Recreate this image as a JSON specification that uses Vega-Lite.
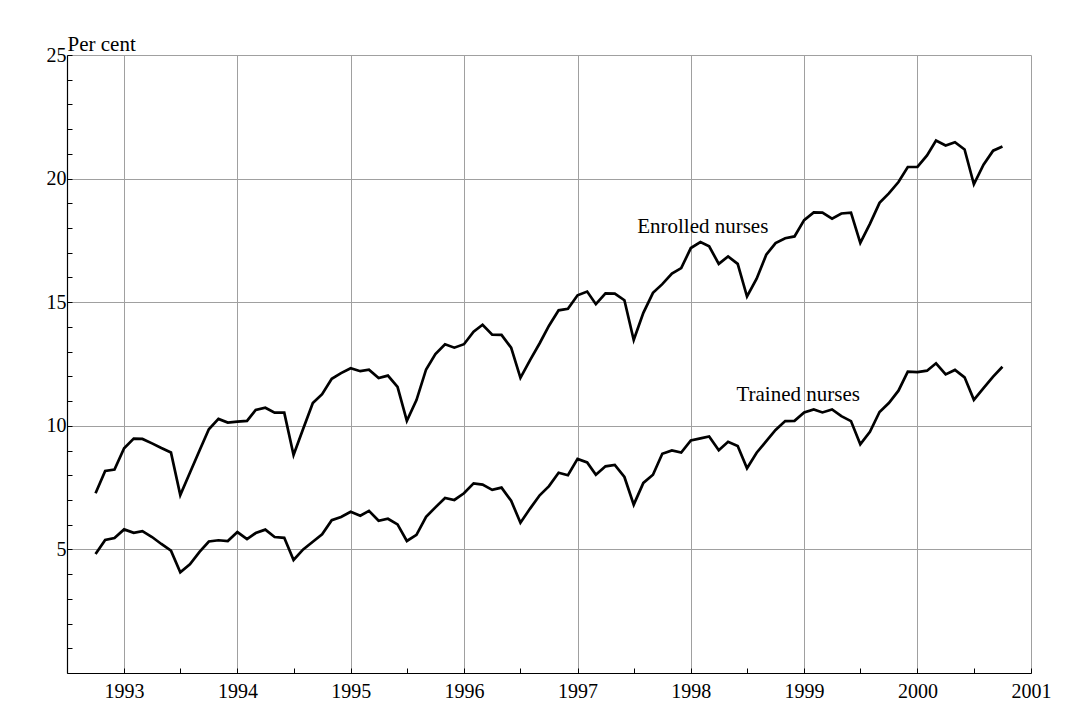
{
  "$schema": "https://vega.github.io/schema/vega-lite/v6.json",
  "width": 964,
  "height": 618,
  "autosize": "none",
  "padding": {"left": 67, "top": 55, "right": 36, "bottom": 42},
  "background": "white",
  "config": {
    "view": {"stroke": null},
    "font": "Liberation Serif",
    "axis": {
      "labelFont": "Liberation Serif",
      "labelFontSize": 20,
      "labelColor": "black",
      "labelOverlap": false,
      "titleFont": "Liberation Serif",
      "titleFontWeight": "normal",
      "titleColor": "black",
      "domainColor": "black",
      "domainWidth": 1.2,
      "tickColor": "black",
      "tickWidth": 1,
      "gridColor": "#a0a0a0",
      "gridWidth": 1
    }
  },
  "datasets": {
    "nurses": [
      {"month": "1992-10-01", "enrolled": 7.27, "trained": 4.81},
      {"month": "1992-11-01", "enrolled": 8.17, "trained": 5.38},
      {"month": "1992-12-01", "enrolled": 8.23, "trained": 5.46},
      {"month": "1993-01-01", "enrolled": 9.09, "trained": 5.81},
      {"month": "1993-02-01", "enrolled": 9.48, "trained": 5.67},
      {"month": "1993-03-01", "enrolled": 9.47, "trained": 5.74},
      {"month": "1993-04-01", "enrolled": 9.29, "trained": 5.50},
      {"month": "1993-05-01", "enrolled": 9.10, "trained": 5.22},
      {"month": "1993-06-01", "enrolled": 8.92, "trained": 4.95},
      {"month": "1993-07-01", "enrolled": 7.20, "trained": 4.07},
      {"month": "1993-08-01", "enrolled": 8.10, "trained": 4.40},
      {"month": "1993-09-01", "enrolled": 9.00, "trained": 4.90},
      {"month": "1993-10-01", "enrolled": 9.86, "trained": 5.32},
      {"month": "1993-11-01", "enrolled": 10.28, "trained": 5.37},
      {"month": "1993-12-01", "enrolled": 10.13, "trained": 5.34},
      {"month": "1994-01-01", "enrolled": 10.17, "trained": 5.70},
      {"month": "1994-02-01", "enrolled": 10.20, "trained": 5.42},
      {"month": "1994-03-01", "enrolled": 10.64, "trained": 5.66},
      {"month": "1994-04-01", "enrolled": 10.73, "trained": 5.80},
      {"month": "1994-05-01", "enrolled": 10.53, "trained": 5.50},
      {"month": "1994-06-01", "enrolled": 10.53, "trained": 5.47},
      {"month": "1994-07-01", "enrolled": 8.82, "trained": 4.57},
      {"month": "1994-08-01", "enrolled": 9.88, "trained": 5.00},
      {"month": "1994-09-01", "enrolled": 10.92, "trained": 5.31},
      {"month": "1994-10-01", "enrolled": 11.28, "trained": 5.61},
      {"month": "1994-11-01", "enrolled": 11.90, "trained": 6.18},
      {"month": "1994-12-01", "enrolled": 12.13, "trained": 6.31},
      {"month": "1995-01-01", "enrolled": 12.33, "trained": 6.52},
      {"month": "1995-02-01", "enrolled": 12.21, "trained": 6.36},
      {"month": "1995-03-01", "enrolled": 12.27, "trained": 6.56},
      {"month": "1995-04-01", "enrolled": 11.93, "trained": 6.16},
      {"month": "1995-05-01", "enrolled": 12.03, "trained": 6.24},
      {"month": "1995-06-01", "enrolled": 11.57, "trained": 6.01},
      {"month": "1995-07-01", "enrolled": 10.20, "trained": 5.34},
      {"month": "1995-08-01", "enrolled": 11.04, "trained": 5.59},
      {"month": "1995-09-01", "enrolled": 12.28, "trained": 6.32},
      {"month": "1995-10-01", "enrolled": 12.90, "trained": 6.70},
      {"month": "1995-11-01", "enrolled": 13.30, "trained": 7.08},
      {"month": "1995-12-01", "enrolled": 13.16, "trained": 7.00},
      {"month": "1996-01-01", "enrolled": 13.30, "trained": 7.27},
      {"month": "1996-02-01", "enrolled": 13.81, "trained": 7.67},
      {"month": "1996-03-01", "enrolled": 14.09, "trained": 7.62},
      {"month": "1996-04-01", "enrolled": 13.69, "trained": 7.41},
      {"month": "1996-05-01", "enrolled": 13.68, "trained": 7.50},
      {"month": "1996-06-01", "enrolled": 13.16, "trained": 6.97},
      {"month": "1996-07-01", "enrolled": 11.94, "trained": 6.08},
      {"month": "1996-08-01", "enrolled": 12.66, "trained": 6.65},
      {"month": "1996-09-01", "enrolled": 13.34, "trained": 7.19},
      {"month": "1996-10-01", "enrolled": 14.05, "trained": 7.56},
      {"month": "1996-11-01", "enrolled": 14.67, "trained": 8.10},
      {"month": "1996-12-01", "enrolled": 14.73, "trained": 8.00},
      {"month": "1997-01-01", "enrolled": 15.28, "trained": 8.66},
      {"month": "1997-02-01", "enrolled": 15.43, "trained": 8.52},
      {"month": "1997-03-01", "enrolled": 14.92, "trained": 8.02},
      {"month": "1997-04-01", "enrolled": 15.36, "trained": 8.36},
      {"month": "1997-05-01", "enrolled": 15.35, "trained": 8.42},
      {"month": "1997-06-01", "enrolled": 15.08, "trained": 7.93},
      {"month": "1997-07-01", "enrolled": 13.47, "trained": 6.81},
      {"month": "1997-08-01", "enrolled": 14.57, "trained": 7.69},
      {"month": "1997-09-01", "enrolled": 15.38, "trained": 8.02},
      {"month": "1997-10-01", "enrolled": 15.73, "trained": 8.87},
      {"month": "1997-11-01", "enrolled": 16.16, "trained": 9.00},
      {"month": "1997-12-01", "enrolled": 16.38, "trained": 8.92},
      {"month": "1998-01-01", "enrolled": 17.19, "trained": 9.41},
      {"month": "1998-02-01", "enrolled": 17.43, "trained": 9.49},
      {"month": "1998-03-01", "enrolled": 17.26, "trained": 9.57},
      {"month": "1998-04-01", "enrolled": 16.55, "trained": 9.01},
      {"month": "1998-05-01", "enrolled": 16.85, "trained": 9.35},
      {"month": "1998-06-01", "enrolled": 16.55, "trained": 9.18},
      {"month": "1998-07-01", "enrolled": 15.23, "trained": 8.28},
      {"month": "1998-08-01", "enrolled": 15.95, "trained": 8.91},
      {"month": "1998-09-01", "enrolled": 16.92, "trained": 9.38},
      {"month": "1998-10-01", "enrolled": 17.39, "trained": 9.83},
      {"month": "1998-11-01", "enrolled": 17.59, "trained": 10.19},
      {"month": "1998-12-01", "enrolled": 17.66, "trained": 10.20},
      {"month": "1999-01-01", "enrolled": 18.32, "trained": 10.54},
      {"month": "1999-02-01", "enrolled": 18.63, "trained": 10.66},
      {"month": "1999-03-01", "enrolled": 18.62, "trained": 10.54},
      {"month": "1999-04-01", "enrolled": 18.38, "trained": 10.66},
      {"month": "1999-05-01", "enrolled": 18.59, "trained": 10.39},
      {"month": "1999-06-01", "enrolled": 18.62, "trained": 10.19},
      {"month": "1999-07-01", "enrolled": 17.40, "trained": 9.25},
      {"month": "1999-08-01", "enrolled": 18.17, "trained": 9.76},
      {"month": "1999-09-01", "enrolled": 19.02, "trained": 10.56},
      {"month": "1999-10-01", "enrolled": 19.40, "trained": 10.92},
      {"month": "1999-11-01", "enrolled": 19.86, "trained": 11.42},
      {"month": "1999-12-01", "enrolled": 20.47, "trained": 12.19},
      {"month": "2000-01-01", "enrolled": 20.47, "trained": 12.17},
      {"month": "2000-02-01", "enrolled": 20.94, "trained": 12.23},
      {"month": "2000-03-01", "enrolled": 21.54, "trained": 12.53},
      {"month": "2000-04-01", "enrolled": 21.34, "trained": 12.08},
      {"month": "2000-05-01", "enrolled": 21.47, "trained": 12.26},
      {"month": "2000-06-01", "enrolled": 21.18, "trained": 11.96},
      {"month": "2000-07-01", "enrolled": 19.77, "trained": 11.05},
      {"month": "2000-08-01", "enrolled": 20.56, "trained": 11.52},
      {"month": "2000-09-01", "enrolled": 21.13, "trained": 11.99},
      {"month": "2000-10-01", "enrolled": 21.30, "trained": 12.39}
    ],
    "labels": [
      {"month": "1997-07-12", "value": 17.8, "label": "Enrolled nurses"},
      {"month": "1998-05-28", "value": 10.99, "label": "Trained nurses"}
    ]
  },
  "encoding": {
    "x": {
      "field": "month",
      "type": "temporal",
      "scale": {
        "type": "utc",
        "domain": [
          {"year": 1992, "month": 7, "date": 1, "utc": true},
          {"year": 2001, "month": 1, "date": 1, "utc": true}
        ]
      },
      "axis": {
        "title": null,
        "values": [
          {"year": 1993, "month": 1, "date": 1, "utc": true},
          {"year": 1993, "month": 7, "date": 1, "utc": true},
          {"year": 1994, "month": 1, "date": 1, "utc": true},
          {"year": 1994, "month": 7, "date": 1, "utc": true},
          {"year": 1995, "month": 1, "date": 1, "utc": true},
          {"year": 1995, "month": 7, "date": 1, "utc": true},
          {"year": 1996, "month": 1, "date": 1, "utc": true},
          {"year": 1996, "month": 7, "date": 1, "utc": true},
          {"year": 1997, "month": 1, "date": 1, "utc": true},
          {"year": 1997, "month": 7, "date": 1, "utc": true},
          {"year": 1998, "month": 1, "date": 1, "utc": true},
          {"year": 1998, "month": 7, "date": 1, "utc": true},
          {"year": 1999, "month": 1, "date": 1, "utc": true},
          {"year": 1999, "month": 7, "date": 1, "utc": true},
          {"year": 2000, "month": 1, "date": 1, "utc": true},
          {"year": 2000, "month": 7, "date": 1, "utc": true},
          {"year": 2001, "month": 1, "date": 1, "utc": true}
        ],
        "labelExpr": "utcmonth(datum.value) === 0 ? utcFormat(datum.value, '%Y') : ''",
        "labelPadding": 13,
        "labelFlush": false,
        "labelOverlap": false,
        "tickSize": -5,
        "grid": true,
        "gridOpacity": {"condition": {"test": "utcmonth(datum.value) === 0", "value": 1}, "value": 0}
      }
    },
    "y": {
      "field": "value",
      "type": "quantitative",
      "scale": {"domain": [0, 25], "nice": false, "zero": true},
      "axis": {
        "title": "Per cent",
        "titleAngle": 0,
        "titleX": 0,
        "titleY": -5,
        "titleAlign": "left",
        "titleBaseline": "alphabetic",
        "titleFontSize": 21,
        "values": [0,1,2,3,4,5,6,7,8,9,10,11,12,13,14,15,16,17,18,19,20,21,22,23,24,25],
        "labelExpr": "(datum.value == 5 || datum.value == 10 || datum.value == 15 || datum.value == 20 || datum.value == 25) ? datum.label : ''",
        "labelPadding": 6,
        "labelOverlap": false,
        "labelFlush": false,
        "tickSize": -5,
        "grid": true,
        "gridOpacity": {"condition": {"test": "datum.value == 5 || datum.value == 10 || datum.value == 15 || datum.value == 20 || datum.value == 25", "value": 1}, "value": 0}
      }
    }
  },
  "layer": [
    {
      "data": {"name": "nurses"},
      "transform": [{"fold": ["enrolled", "trained"], "as": ["series", "value"]}],
      "mark": {"type": "line", "color": "black", "strokeWidth": 2.7},
      "encoding": {
        "detail": {"field": "series", "type": "nominal"}
      }
    },
    {
      "data": {"name": "labels"},
      "mark": {"type": "text", "align": "left", "baseline": "alphabetic", "font": "Liberation Serif", "fontSize": 21, "color": "black"},
      "encoding": {
        "text": {"field": "label"}
      }
    }
  ]
}
